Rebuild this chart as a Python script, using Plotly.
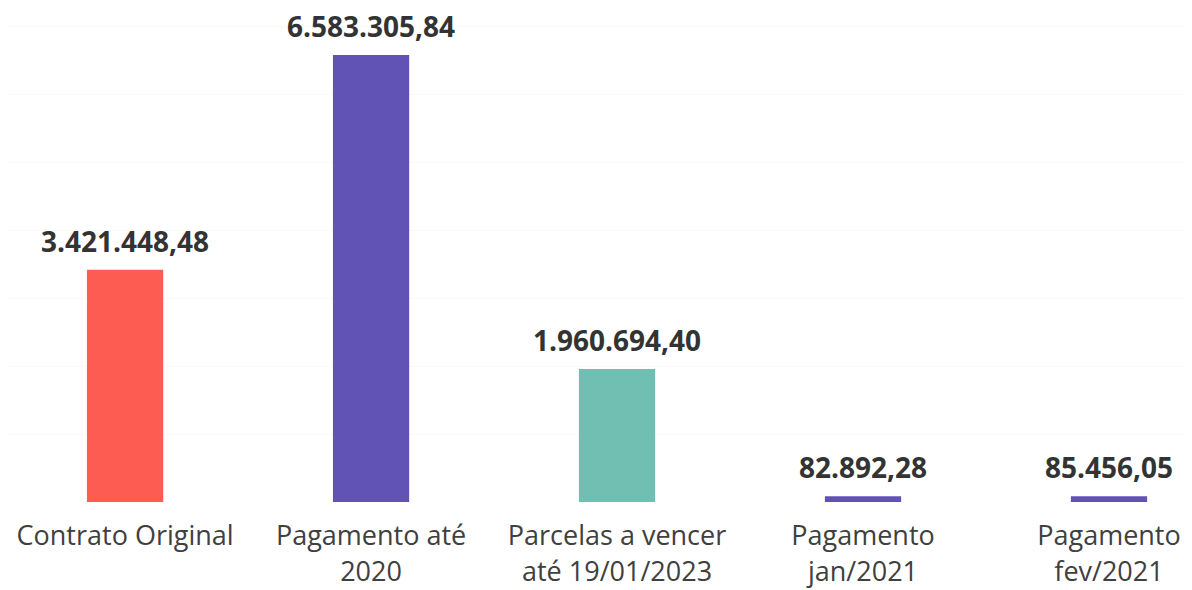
import plotly.graph_objects as go

categorias = ["Contrato Original", "Pagamento até<br>2020", "Parcelas a vencer<br>até 19/01/2023",
              "Pagamento<br>jan/2021", "Pagamento<br>fev/2021"]
valores = [3421448.48, 6583305.84, 1960694.40, 82892.28, 85456.05]
cores = ["#FD5C53", "#6152B6", "#70BFB2", "#6152B6", "#6152B6"]


def fmt_br(v):
    # 1234567.8 -> 1.234.567,80
    return f"{v:,.2f}".replace(",", "X").replace(".", ",").replace("X", ".")


fig = go.Figure(go.Bar(
    x=categorias, y=valores,
    marker=dict(color=cores, line=dict(width=0)),
    width=0.31,
    showlegend=False,
    hoverinfo="skip",
))

# rótulos de valor acima das barras
for cat, val in zip(categorias, valores):
    fig.add_annotation(
        x=cat, y=val, text=f"<b>{fmt_br(val)}</b>",
        showarrow=False, yanchor="bottom", yshift=8,
        font=dict(family="Open Sans", size=28, color="#333333"),
    )

fig.update_layout(
    width=1192, height=590,
    margin=dict(l=0, r=0, t=12, b=96),
    plot_bgcolor="white", paper_bgcolor="white",
    xaxis=dict(
        range=[-0.476, 4.37], showline=False, showgrid=False, zeroline=False,
        ticks="outside", ticklen=10, tickcolor="rgba(0,0,0,0)",
        tickfont=dict(family="Open Sans", size=27, color="#404040"),
    ),
    yaxis=dict(
        range=[0, 7.1e6], dtick=1e6, showticklabels=False,
        gridcolor="#fafafa", zeroline=False, showline=False,
    ),
)

fig.write_html("out.html")
